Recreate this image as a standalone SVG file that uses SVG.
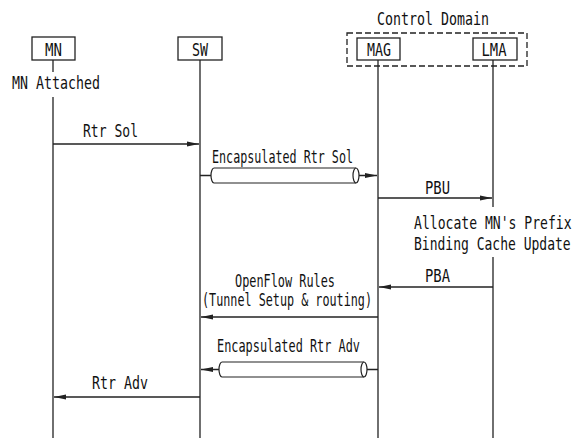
<svg xmlns="http://www.w3.org/2000/svg" width="576" height="438" viewBox="0 0 576 438">
<style>
text{font-family:"DejaVu Sans Mono","Liberation Mono",monospace;fill:#111}
.t{font-size:17.5px}
.b{font-size:18.5px}
.box{fill:#fff;stroke:#222;stroke-width:1.3}
.life{stroke:#222;stroke-width:1.3;fill:none}
.msg{stroke:#222;stroke-width:1.3;fill:none;marker-end:url(#ah)}
.tube{fill:#fff;stroke:#222;stroke-width:1.2}
</style>
<defs>
<marker id="ah" markerUnits="userSpaceOnUse" markerWidth="13" markerHeight="6" refX="12" refY="3" orient="auto">
<path d="M0,0.6 L12,3 L0,5.4 z" fill="#222"/>
</marker>
</defs>
<rect width="576" height="438" fill="#fff"/>

<g id="control-domain">
<rect x="347" y="33" width="180" height="33" fill="none" stroke="#222" stroke-width="1.3" stroke-dasharray="6,3"/>
<text class="b" x="433" y="25" text-anchor="middle" textLength="112" lengthAdjust="spacingAndGlyphs">Control Domain</text>
</g>

<g id="MN">
<rect class="box" x="32" y="37" width="43" height="23"/>
<text class="b" x="53.5" y="56" text-anchor="middle" textLength="17" lengthAdjust="spacingAndGlyphs">MN</text>
<line class="life" x1="53" y1="60" x2="53" y2="72"/>
<text class="b" x="12" y="89" textLength="88" lengthAdjust="spacingAndGlyphs">MN Attached</text>
<line class="life" x1="53" y1="97" x2="53" y2="438"/>
</g>

<g id="SW">
<rect class="box" x="178" y="37" width="44" height="23"/>
<text class="b" x="200" y="56" text-anchor="middle" textLength="16" lengthAdjust="spacingAndGlyphs">SW</text>
<line class="life" x1="200" y1="60" x2="200" y2="438"/>
</g>

<g id="MAG">
<rect class="box" x="357" y="38" width="43" height="22"/>
<text class="b" x="379" y="56" text-anchor="middle" textLength="24" lengthAdjust="spacingAndGlyphs">MAG</text>
<line class="life" x1="378" y1="60" x2="378" y2="438"/>
</g>

<g id="LMA">
<rect class="box" x="473" y="38" width="44" height="22"/>
<text class="b" x="494" y="56" text-anchor="middle" textLength="25" lengthAdjust="spacingAndGlyphs">LMA</text>
<line class="life" x1="493" y1="60" x2="493" y2="207"/>
<text class="b" transform="translate(414,229) scale(0.708,1)" x="0" y="0">Allocate MN's Prefix</text>
<text class="b" transform="translate(414,250) scale(0.704,1)" x="0" y="0">Binding Cache Update</text>
<line class="life" x1="493" y1="257" x2="493" y2="438"/>
</g>

<g id="connectors">
<line class="msg" x1="53" y1="144" x2="199" y2="144"/>
<text class="t" x="83" y="137" textLength="55" lengthAdjust="spacingAndGlyphs">Rtr Sol</text>

<line class="msg" x1="200" y1="175.5" x2="377" y2="175.5"/>
<path class="tube" d="M356,168 L214,168 A3,7.5 0 0 0 214,183 L356,183"/>
<ellipse class="tube" cx="356" cy="175.5" rx="3" ry="7.5"/>
<text class="t" x="212" y="163" textLength="141" lengthAdjust="spacingAndGlyphs">Encapsulated Rtr Sol</text>

<line class="msg" x1="378" y1="198" x2="492" y2="198"/>
<text class="t" x="425" y="194" textLength="25" lengthAdjust="spacingAndGlyphs">PBU</text>

<line class="msg" x1="493" y1="287" x2="379" y2="287"/>
<text class="t" x="425" y="282" textLength="25" lengthAdjust="spacingAndGlyphs">PBA</text>

<line class="msg" x1="378" y1="317" x2="201" y2="317"/>
<text class="t" x="235" y="287" textLength="100" lengthAdjust="spacingAndGlyphs">OpenFlow Rules</text>
<text class="t" x="202" y="306" textLength="170" lengthAdjust="spacingAndGlyphs">(Tunnel Setup &amp; routing)</text>

<line class="msg" x1="378" y1="369.5" x2="201" y2="369.5"/>
<path class="tube" d="M364,362 L222,362 A3,7.5 0 0 0 222,377 L364,377"/>
<ellipse class="tube" cx="364" cy="369.5" rx="3" ry="7.5"/>
<text class="t" x="217" y="352" textLength="143" lengthAdjust="spacingAndGlyphs">Encapsulated Rtr Adv</text>

<line class="msg" x1="200" y1="397" x2="54" y2="397"/>
<text class="t" x="92" y="389" textLength="56" lengthAdjust="spacingAndGlyphs">Rtr Adv</text>
</g>
</svg>
